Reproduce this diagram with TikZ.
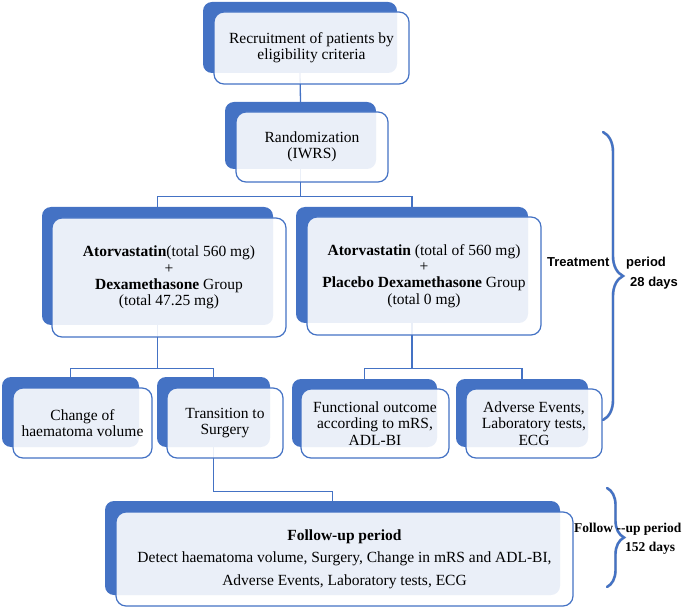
\documentclass[tikz,border=0pt]{standalone}
\usepackage{fontspec}
\setmainfont{Liberation Serif}
\newfontfamily\sidefont{Liberation Sans}
\usetikzlibrary{decorations.pathreplacing}
\definecolor{boxblue}{HTML}{4472C4}
\pgfdeclarelayer{background}
\pgfsetlayers{background,main}

\begin{document}
\begin{tikzpicture}[
        x=1pt, y=-1pt,
        backbox/.style={rectangle, rounded corners=9pt, fill=boxblue, inner sep=0pt},
        frontbox/.style={rectangle, rounded corners=10pt, draw=boxblue, line width=1.2pt, fill=white, fill opacity=0.89, text opacity=1, align=center, inner sep=0pt, font=\fontsize{15.5}{16.3}\selectfont},
        link/.style={draw=boxblue, line width=1.3pt},
        curly/.style={draw=boxblue, line width=2.4pt, line cap=round, decorate, decoration={brace, amplitude=#1}},
        curlyshade/.style={draw=black!35, opacity=0.5, line width=2.8pt, decorate, decoration={brace, amplitude=#1}, xshift=1.5pt, yshift=-1.5pt},
        sidelabel/.style={inner sep=0pt, font=\sidefont\bfseries\fontsize{13}{15}\selectfont},
        followlabel/.style={inner sep=0pt, font=\bfseries\fontsize{13.5}{15}\selectfont}
    ]
        \useasboundingbox (0,0) rectangle (685,609);

        \node[backbox, minimum width=194pt, minimum height=71pt] (recb) at (300,37.5) {};
        \node[frontbox, minimum width=195pt, minimum height=72pt] (rec) at (311.5,48) {Recruitment of patients by\\eligibility criteria};

        \node[backbox, minimum width=151pt, minimum height=67pt] (randb) at (300.5,135.5) {};
        \node[frontbox, minimum width=152pt, minimum height=70pt] (rand) at (312,147) {Randomization\\(IWRS)};

        \node[backbox, minimum width=231pt, minimum height=118pt] (dexab) at (157.5,266) {};
        \node[frontbox, minimum width=234pt, minimum height=119pt] (dexa) at (169,277.5) {\textbf{Atorvastatin}(total 560 mg)\\+\\\textbf{Dexamethasone} Group\\(total 47.25 mg)};

        \node[backbox, minimum width=232pt, minimum height=116pt] (placb) at (412,265) {};
        \node[frontbox, minimum width=234pt, minimum height=118pt] (plac) at (424,276) {\textbf{Atorvastatin} (total of 560 mg)\\+\\\textbf{Placebo Dexamethasone} Group\\(total 0 mg)};

        \node[backbox, minimum width=137pt, minimum height=70pt] (volb) at (70.5,412) {};
        \node[frontbox, minimum width=139pt, minimum height=70pt] (vol) at (82.5,423) {Change of\\haematoma volume};

        \node[backbox, minimum width=113pt, minimum height=70pt] (surgb) at (213.5,412) {};
        \node[frontbox, minimum width=116pt, minimum height=70pt] (surg) at (225,423) {Transition to\\Surgery};

        \node[backbox, minimum width=145pt, minimum height=68pt] (funcb) at (364.5,413) {};
        \node[frontbox, minimum width=148pt, minimum height=69pt] (func) at (375,423.5) {Functional outcome\\according to mRS,\\ADL-BI};

        \node[backbox, minimum width=132pt, minimum height=68pt] (adveb) at (522,413) {};
        \node[frontbox, minimum width=136pt, minimum height=69pt] (adve) at (534,423.5) {Adverse Events,\\Laboratory tests,\\ECG};

        \node[backbox, minimum width=455pt, minimum height=94pt] (follb) at (332.5,548) {};
        \node[frontbox, minimum width=457pt, minimum height=94pt, font=\fontsize{15.5}{22.5}\selectfont] (foll) at (344.5,559) {\textbf{Follow-up period}\\Detect haematoma volume, Surgery, Change in mRS and ADL-BI,\\Adverse Events, Laboratory tests, ECG};

        \begin{pgfonlayer}{background}
        \draw[link] (recb.south) -- (randb.north);
        \draw[link] (randb.south) -- ++(0,27) -| (dexab.north);
        \draw[link] (randb.south) -- ++(0,27) -| (placb.north);
        \draw[link] (dexab.south) -- ++(0,43) -| (volb.north);
        \draw[link] (dexab.south) -- ++(0,43) -| (surgb.north);
        \draw[link] (placb.south) -- ++(0,45) -| (funcb.north);
        \draw[link] (placb.south) -- ++(0,45) -| (adveb.north);
        \draw[link] (surgb.south) -- ++(0,44) -| (follb.north);
        \end{pgfonlayer}

        % braces
        \coordinate (treattop) at (603,132);
        \coordinate (treatbot) at (603,420);
        \coordinate (folltop) at (607,488);
        \coordinate (follbot) at (607,587);
        \draw[curlyshade=20pt] (treattop) -- (treatbot);
        \draw[curly=20pt] (treattop) -- (treatbot);
        \draw[curlyshade=17pt] (folltop) -- (follbot);
        \draw[curly=17pt] (folltop) -- (follbot);

        \node[sidelabel, anchor=base west] (treat) at (547,267) {Treatment};
        \node[sidelabel, anchor=base west] (period) at (626,267) {period};
        \node[sidelabel, anchor=base west] (days28) at (630,287) {28 days};
        \node[followlabel, anchor=base west] (follow) at (574,532) {Follow -{}-up period};
        \node[followlabel, anchor=base west] (days152) at (625,551) {152 days};
    \end{tikzpicture}
\end{document}
